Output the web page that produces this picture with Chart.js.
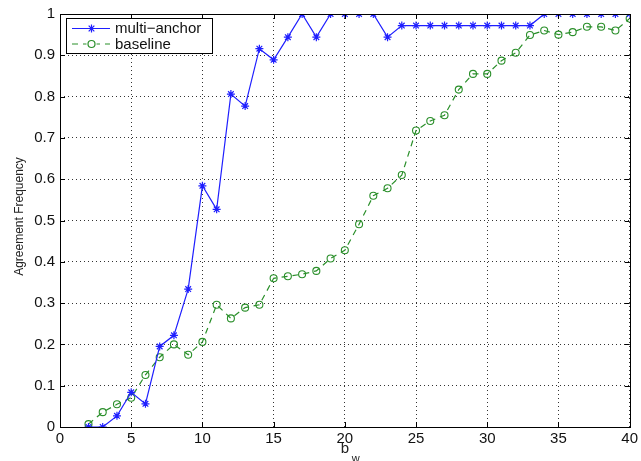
<!DOCTYPE html>
<html>
<head>
<meta charset="utf-8">
<script src="https://cdn.jsdelivr.net/npm/chart.js@4/dist/chart.umd.min.js"></script>
<style>
  html, body { margin: 0; padding: 0; background: #fff; }
  #wrap { position: relative; width: 641px; height: 461px; }
</style>
</head>
<body>
<div id="wrap"><canvas id="c" width="641" height="461"></canvas></div>
<script>
// Window width b_w
const bw = [2,3,4,5,6,7,8,9,10,11,12,13,14,15,16,17,18,19,20,21,22,23,24,25,26,27,28,29,30,31,32,33,34,35,36,37,38,39,40];

// Agreement frequency, multi-anchor method
const multiAnchor = [0.0,0.0,0.027,0.084,0.056,0.195,0.222,0.334,0.584,0.527,0.806,0.777,0.916,0.889,0.944,1.0,0.944,1.0,1.0,1.0,1.0,0.944,0.972,0.972,0.972,0.972,0.972,0.972,0.972,0.972,0.972,0.972,1.0,1.0,1.0,1.0,1.0,1.0,1.0];

// Agreement frequency, baseline method
const baseline = [0.007,0.036,0.055,0.071,0.126,0.169,0.200,0.175,0.206,0.296,0.263,0.289,0.296,0.360,0.365,0.370,0.378,0.408,0.428,0.491,0.560,0.578,0.610,0.718,0.741,0.755,0.817,0.855,0.855,0.887,0.906,0.949,0.960,0.950,0.956,0.969,0.969,0.960,0.989];

const xTicks = [0,5,10,15,20,25,30,35,40];
const yTicks = [0,0.1,0.2,0.3,0.4,0.5,0.6,0.7,0.8,0.9,1];
const seriesNames = ['multi\u2212anchor', 'baseline'];
const yTitle = 'Agreement Frequency';
const xTitle = 'b';
const xTitleSub = 'w';

const BLUE = '#1f1fff';
const GREEN = '#2a8f2a';
const FONT = '"Liberation Sans", Arial, sans-serif';

function pts(ys) { return bw.map((x, i) => ({ x: x, y: ys[i] })); }

// Frame, inward tick marks, axis titles and legend
const framePlugin = {
  id: 'frame',
  afterDraw(chart) {
    const { ctx, chartArea: a, scales } = chart;
    const xs = scales.x, ys = scales.y;
    ctx.save();
    ctx.strokeStyle = '#000';
    ctx.lineWidth = 1;
    ctx.setLineDash([]);
    ctx.strokeRect(Math.round(a.left) + 0.5, Math.round(a.top) + 0.5,
                   Math.round(a.right - a.left), Math.round(a.bottom - a.top));
    const tl = 5;
    ctx.beginPath();
    xTicks.forEach(v => {
      const px = Math.round(xs.getPixelForValue(v)) + 0.5;
      ctx.moveTo(px, a.bottom); ctx.lineTo(px, a.bottom - tl);
      ctx.moveTo(px, a.top); ctx.lineTo(px, a.top + tl);
    });
    yTicks.forEach(v => {
      const py = Math.round(ys.getPixelForValue(v)) + 0.5;
      ctx.moveTo(a.left, py); ctx.lineTo(a.left + tl, py);
      ctx.moveTo(a.right, py); ctx.lineTo(a.right - tl, py);
    });
    ctx.stroke();

    // Axis titles
    ctx.fillStyle = '#222';
    ctx.textAlign = 'center';
    ctx.textBaseline = 'middle';
    ctx.font = '12px ' + FONT;
    ctx.save();
    ctx.translate(20, (a.top + a.bottom) / 2 - 4);
    ctx.rotate(-Math.PI / 2);
    ctx.fillText(yTitle, 0, 0);
    ctx.restore();
    ctx.font = '15px ' + FONT;
    const cx = (a.left + a.right) / 2 + 0;
    ctx.fillText(xTitle, cx, 449);
    ctx.font = '11px ' + FONT;
    ctx.fillText(xTitleSub, cx + 11, 459);

    // Legend box
    const lx = 66.5, ly = 18.5, lw = 146, lh = 35;
    ctx.fillStyle = '#fff';
    ctx.fillRect(lx, ly, lw, lh);
    ctx.strokeStyle = '#000';
    ctx.lineWidth = 1;
    ctx.strokeRect(lx, ly, lw, lh);
    const rows = [
      { y: 28.5, color: BLUE, dash: [], name: seriesNames[0], marker: 'star' },
      { y: 44, color: GREEN, dash: [6, 5], name: seriesNames[1], marker: 'circle' }
    ];
    rows.forEach(r => {
      ctx.strokeStyle = r.color;
      ctx.lineWidth = 1.2;
      ctx.setLineDash(r.dash);
      ctx.beginPath();
      ctx.moveTo(72, r.y); ctx.lineTo(110, r.y);
      ctx.stroke();
      ctx.setLineDash([]);
      const mx = 91.5, rad = r.marker === 'star' ? 4 : 3.5;
      ctx.fillStyle = '#fff';
      ctx.beginPath();
      if (r.marker === 'star') {
        ctx.moveTo(mx - rad, r.y); ctx.lineTo(mx + rad, r.y);
        ctx.moveTo(mx, r.y - rad); ctx.lineTo(mx, r.y + rad);
        const d = rad * Math.SQRT1_2;
        ctx.moveTo(mx - d, r.y - d); ctx.lineTo(mx + d, r.y + d);
        ctx.moveTo(mx - d, r.y + d); ctx.lineTo(mx + d, r.y - d);
        ctx.stroke();
      } else {
        ctx.fillRect(mx - 5, r.y - 5, 10, 10);
        ctx.beginPath();
        ctx.arc(mx, r.y, rad, 0, Math.PI * 2);
        ctx.stroke();
      }
      ctx.fillStyle = '#111';
      ctx.textAlign = 'left';
      ctx.textBaseline = 'middle';
      ctx.font = '15px ' + FONT;
      ctx.fillText(r.name, 115, r.y + 0.5);
    });
    ctx.restore();
  }
};

new Chart(document.getElementById('c'), {
  type: 'line',
  data: {
    datasets: [
      {
        label: seriesNames[0],
        data: pts(multiAnchor),
        borderColor: BLUE,
        backgroundColor: BLUE,
        borderWidth: 1.2,
        pointStyle: 'star',
        pointRadius: 4,
        pointBorderWidth: 1.2,
        pointBorderColor: BLUE,
        tension: 0,
        fill: false
      },
      {
        label: seriesNames[1],
        data: pts(baseline),
        borderColor: GREEN,
        backgroundColor: 'rgba(255,255,255,0)',
        borderWidth: 1.2,
        borderDash: [6, 5],
        pointStyle: 'circle',
        pointRadius: 3.5,
        pointBorderWidth: 1.1,
        pointBorderColor: GREEN,
        pointBackgroundColor: 'rgba(255,255,255,0)',
        tension: 0,
        fill: false
      }
    ]
  },
  options: {
    responsive: false,
    animation: false,
    events: [],
    layout: { padding: { top: 13, right: 9, left: 0, bottom: 0 } },
    plugins: { legend: { display: false }, tooltip: { enabled: false } },
    scales: {
      x: {
        type: 'linear',
        min: 0, max: 40,
        afterFit(s) { s.height = 34; },
        afterBuildTicks(s) { s.ticks = xTicks.map(v => ({ value: v })); },
        ticks: {
          color: '#111',
          font: { family: FONT, size: 15 },
          padding: 3,
          maxRotation: 0,
          callback: v => String(v)
        },
        grid: { color: '#333', lineWidth: 1, drawTicks: false },
        border: { display: false, dash: [1, 3] }
      },
      y: {
        min: 0, max: 1,
        afterFit(s) { s.width = 60; },
        afterBuildTicks(s) { s.ticks = yTicks.map(v => ({ value: v })); },
        ticks: {
          color: '#111',
          font: { family: FONT, size: 15 },
          padding: 5,
          callback: v => String(Math.round(v * 10) / 10)
        },
        grid: { color: '#333', lineWidth: 1, drawTicks: false },
        border: { display: false, dash: [1, 3] }
      }
    }
  },
  plugins: [framePlugin]
});
</script>
</body>
</html>
